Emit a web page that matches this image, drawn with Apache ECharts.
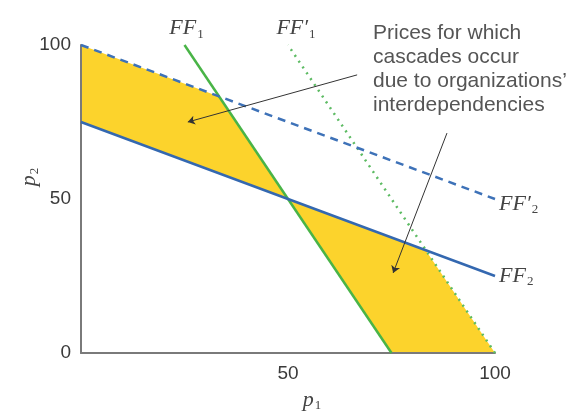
<!DOCTYPE html>
<html>
<head>
<meta charset="utf-8">
<script src="https://cdn.jsdelivr.net/npm/echarts@6/dist/echarts.min.js"></script>
<style>
  html, body { margin: 0; padding: 0; background: #fff; }
  #chart { width: 570px; height: 417px; }
</style>
</head>
<body>
<div id="chart"></div>
<script>
// tick labels
var xTicks = [0, 50, 100]
var yTicks = [0, 50, 100]

// the four frontier lines (p1, p2 end points)
var ff1 = [[75, 0], [25, 100]]
var ff1p = [[100, 0], [50, 100]]
var ff2 = [[0, 75], [100, 25]]
var ff2p = [[0, 100], [100, 50]]

// shaded regions where cascades happen
var regionLeft = [[0, 100], [33.3, 83.3], [50, 50], [0, 75]]
var regionRight = [[50, 50], [83.3, 33.3], [100, 0], [75, 0]]
var regions = [regionLeft, regionRight]

// annotation arrows: [from, to]
var arrows = [
  [[66.7, 90.3], [25.8, 75]],
  [[88.4, 71.4], [75.4, 26]]
]
var noteText = 'Prices for which\ncascades occur\ndue to organizations\u2019\ninterdependencies'

var serif = '"Liberation Serif", "DejaVu Serif", serif'
var sans = '"Liberation Sans", Arial, sans-serif'

var richLbl = {
  i: { fontFamily: serif, fontStyle: 'italic', fontSize: 22, color: '#444', lineHeight: 24 },
  s: { fontFamily: serif, fontSize: 13, color: '#444', padding: [12, 0, 0, 1] }
}

function endLabel(text, pos, offset) {
  return {
    show: true,
    position: pos,
    distance: 4,
    offset: offset || [0, 0],
    formatter: text,
    rich: richLbl
  }
}

function withLabel(pts, label) {
  return [pts[0], { value: pts[1], label: label }]
}

var chart = echarts.init(document.getElementById('chart'))

var option = {
  animation: false,
  grid: { left: 81, right: 75, top: 45, bottom: 64 },
  xAxis: {
    type: 'value',
    min: 0,
    max: 100,
    interval: 50,
    z: 1,
    splitLine: { show: false },
    axisTick: { show: false },
    axisLine: { lineStyle: { color: '#7a7a7a', width: 2 } },
    axisLabel: {
      margin: 11,
      fontSize: 19,
      fontFamily: sans,
      color: '#3a3a3a',
      formatter: function (v) { return v === 0 ? '' : v }
    },
    name: '{p|p}{s|1}',
    nameLocation: 'middle',
    nameGap: 36,
    nameMoveOverlap: false,
    nameTextStyle: {
      padding: [0, 0, 0, 48],
      rich: {
        p: { fontFamily: serif, fontStyle: 'italic', fontSize: 22, color: '#444' },
        s: { fontFamily: serif, fontSize: 13, color: '#444', padding: [10, 0, 0, 1] }
      }
    }
  },
  yAxis: {
    type: 'value',
    min: 0,
    max: 100,
    interval: 50,
    z: 1,
    splitLine: { show: false },
    axisTick: { show: false },
    axisLine: { lineStyle: { color: '#7a7a7a', width: 2 } },
    axisLabel: { margin: 10, fontSize: 19, fontFamily: sans, color: '#3a3a3a' },
    name: '{p|p}{s|2}',
    nameLocation: 'middle',
    nameGap: 40,
    nameMoveOverlap: false,
    nameTextStyle: {
      padding: [0, 0, 0, 44],
      rich: {
        p: { fontFamily: serif, fontStyle: 'italic', fontSize: 22, color: '#444' },
        s: { fontFamily: serif, fontSize: 13, color: '#444', padding: [10, 0, 0, 1] }
      }
    }
  },
  graphic: [{
    type: 'text',
    left: 373,
    top: 21,
    style: {
      text: noteText,
      font: '21px ' + sans,
      lineHeight: 24,
      fill: '#555'
    }
  }],
  series: [
    {
      type: 'custom',
      z: 0,
      silent: true,
      data: regions.map(function (r, i) { return [i] }),
      renderItem: function (params, api) {
        var pts = regions[params.dataIndex].map(function (p) { return api.coord(p) })
        return { type: 'polygon', shape: { points: pts }, style: { fill: '#FCD32C' } }
      }
    },
    {
      name: 'FF1',
      type: 'line',
      z: 3,
      symbolSize: 0,
      emphasis: { disabled: true },
      lineStyle: { color: '#49b447', width: 2.5 },
      data: withLabel(ff1, endLabel('{i|FF}{s|1}', 'top', [2, 0]))
    },
    {
      name: "FF'1",
      type: 'line',
      z: 3,
      symbolSize: 0,
      emphasis: { disabled: true },
      lineStyle: { color: '#5dbb63', width: 2.5, type: [2, 5] },
      data: withLabel(ff1p, endLabel('{i|FF\u2032}{s|1}', 'top', [8, 0]))
    },
    {
      name: 'FF2',
      type: 'line',
      z: 3,
      symbolSize: 0,
      emphasis: { disabled: true },
      lineStyle: { color: '#3468b0', width: 2.5 },
      data: withLabel(ff2, endLabel('{i|FF}{s|2}', 'right', [0, 0]))
    },
    {
      name: "FF'2",
      type: 'line',
      z: 3,
      symbolSize: 0,
      emphasis: { disabled: true },
      lineStyle: { color: '#3e72b8', width: 2.5, type: [8, 6] },
      data: withLabel(ff2p, endLabel('{i|FF\u2032}{s|2}', 'right', [0, 5]))
    },
    {
      type: 'lines',
      coordinateSystem: 'cartesian2d',
      z: 4,
      silent: true,
      symbol: ['none', 'arrow'],
      symbolSize: [0, 7],
      lineStyle: { color: '#333', width: 1, opacity: 1, curveness: 0 },
      data: arrows.map(function (a) { return { coords: a } })
    }
  ]
}

chart.setOption(option)
window.addEventListener('resize', function () {
  chart.resize()
})
</script>
</body>
</html>
